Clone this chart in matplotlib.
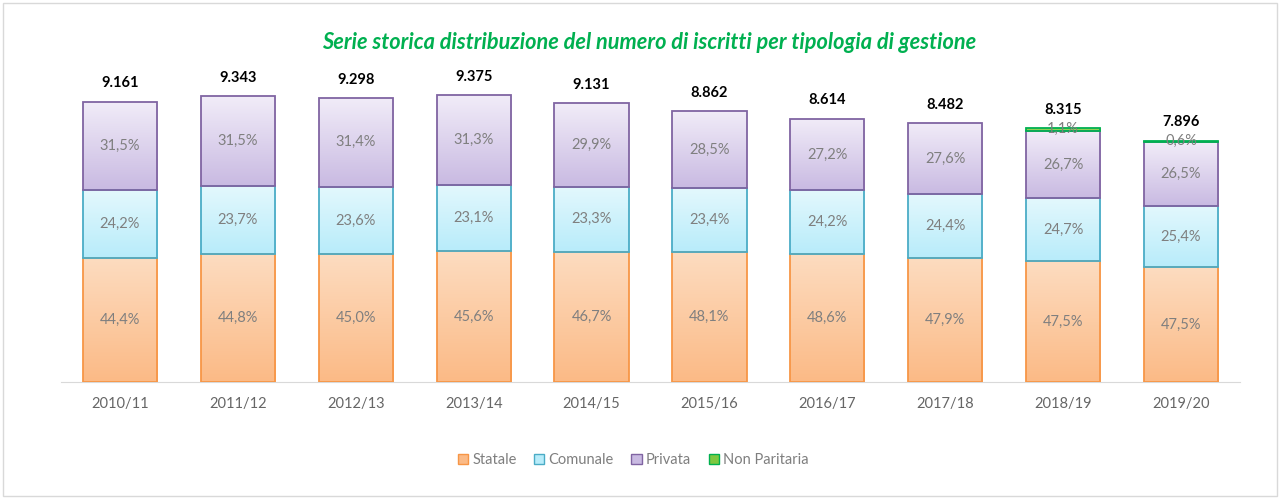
import numpy as np
import matplotlib.pyplot as plt
from matplotlib.colors import LinearSegmentedColormap
from matplotlib.patches import Rectangle, Patch

plt.rcParams['font.family'] = ['Lato', 'DejaVu Sans']

# dati
anni = ["2010/11", "2011/12", "2012/13", "2013/14", "2014/15",
        "2015/16", "2016/17", "2017/18", "2018/19", "2019/20"]
totali = [9161, 9343, 9298, 9375, 9131, 8862, 8614, 8482, 8315, 7896]
statale = [44.4, 44.8, 45.0, 45.6, 46.7, 48.1, 48.6, 47.9, 47.5, 47.5]
comunale = [24.2, 23.7, 23.6, 23.1, 23.3, 23.4, 24.2, 24.4, 24.7, 25.4]
privata = [31.5, 31.5, 31.4, 31.3, 29.9, 28.5, 27.2, 27.6, 26.7, 26.5]
non_paritaria = [0, 0, 0, 0, 0, 0, 0, 0, 1.1, 0.6]

serie = [
    ("Statale", statale, "#FDDCC0", "#FBBA86", "#F79646"),
    ("Comunale", comunale, "#E3F8FD", "#B8ECFA", "#4BACC6"),
    ("Privata", privata, "#F1ECF8", "#C9BAE2", "#8064A2"),
    ("Non Paritaria", non_paritaria, "#A6DC6E", "#7EC840", "#00B050"),
]

fig = plt.figure(figsize=(12.82, 4.98), dpi=100)
ax = fig.add_axes([0.0476, 0.233, 0.9196, 0.614])
ax.set_xlim(-0.5, len(anni) - 0.5)
ax.set_ylim(0, 10000)

x = np.arange(len(anni))
w = 0.63
grad = np.linspace(0, 1, 100).reshape(-1, 1)
base = np.zeros(len(anni))
handles = []
for nome, perc, c_top, c_bot, c_edge in serie:
    vals = np.array(totali) * np.array(perc) / 100
    cmap = LinearSegmentedColormap.from_list(nome, [c_bot, c_top])
    bars = ax.bar(x, vals, w, bottom=base, facecolor="none", edgecolor=c_edge,
                  linewidth=1.3, zorder=3)
    for b, p, v, b0 in zip(bars, perc, vals, base):
        if v <= 0:
            b.set_visible(False)
            continue
        im = ax.imshow(grad, cmap=cmap, aspect="auto", origin="lower",
                       extent=[b.get_x(), b.get_x() + w, b0, b0 + v], zorder=2)
        im.set_clip_path(b)
        ax.text(b.get_x() + w / 2, b0 + v / 2, f"{p:.1f}%".replace(".", ","),
                ha="center", va="center", fontsize=10.5, color="#7F7F7F", zorder=4)
    handles.append(Patch(facecolor=c_bot, edgecolor=c_edge, label=nome))
    base = base + vals

for xi, t, top in zip(x, totali, base):
    ax.annotate(f"{t:,}".replace(",", "."), (xi, top), xytext=(0, 8),
                textcoords="offset points", ha="center", va="bottom",
                fontsize=10.5, fontweight="bold", color="black")

ax.set_xticks(x)
ax.set_xticklabels(anni, fontsize=10.5, color="#666666")
ax.tick_params(axis="x", length=0, pad=11)
ax.set_yticks([])
for s in ["top", "right", "left"]:
    ax.spines[s].set_visible(False)
ax.spines["bottom"].set_color("#D9D9D9")

fig.text(0.506, 0.915, "Serie storica distribuzione del numero di iscritti per tipologia di gestione",
         ha="center", va="center", fontsize=15.7, fontweight="bold", fontstyle="italic",
         color="#00B050")

fig.legend(handles=handles, loc="center", bbox_to_anchor=(0.494, 0.076), ncol=4,
           frameon=False, fontsize=10.5, labelcolor="#7F7F7F", handlelength=0.7,
           handleheight=0.7, handletextpad=0.3, columnspacing=1.2)

fig.patches.append(Rectangle((0.002, 0.004), 0.994, 0.99, transform=fig.transFigure,
                             fill=False, edgecolor="#D9D9D9", linewidth=1))

fig.savefig("out.png", dpi=100)
